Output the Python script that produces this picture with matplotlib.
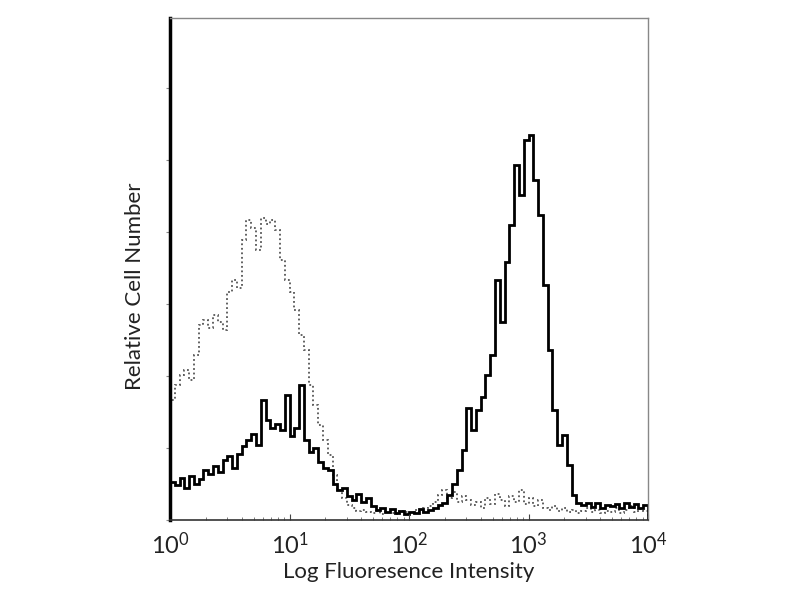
import numpy as np
import matplotlib.pyplot as plt

# ------------------------------------------------------------------
# Donnees lues sur l'histogramme (hauteurs relatives, 100 canaux log)
# ------------------------------------------------------------------
log_min, log_max, n_bins = 0.0, 4.0, 100

stained = [38, 35, 42, 32, 44, 36, 41, 50, 46, 54,
           48, 60, 64, 52, 66, 74, 80, 86, 75, 120,
           100, 92, 96, 90, 125, 84, 92, 135, 80, 68,
           72, 58, 52, 50, 36, 30, 32, 24, 20, 26,
           18, 22, 14, 10, 12, 8, 11, 7, 9, 6,
           8, 7, 11, 8, 10, 12, 15, 17, 25, 36,
           50, 70, 112, 90, 110, 123, 145, 165, 240, 198,
           258, 295, 355, 325, 380, 385, 340, 305, 235, 170,
           110, 75, 85, 55, 25, 17, 15, 17, 13, 17,
           12, 15, 14, 16, 12, 17, 13, 16, 12, 15]

isotype = [120, 135, 145, 150, 140, 165, 195, 200, 192, 205,
           198, 190, 228, 240, 232, 280, 300, 292, 270, 302,
           296, 300, 290, 260, 240, 228, 210, 185, 170, 135,
           115, 95, 80, 65, 45, 30, 22, 15, 12, 9,
           10, 8, 7, 9, 6, 8, 7, 6, 9, 8,
           7, 10, 8, 12, 14, 18, 25, 30, 22, 28,
           18, 24, 20, 15, 18, 12, 22, 16, 26, 20,
           14, 24, 18, 30, 16, 22, 14, 20, 12, 10,
           14, 9, 12, 8, 10, 7, 9, 12, 8, 10,
           7, 9, 8, 12, 7, 10, 14, 8, 11, 9]

x_ticks = [1, 10, 100, 1000, 10000]
x_labels = ["$10^0$", "$10^1$", "$10^2$", "$10^3$", "$10^4$"]

edges = 10 ** np.linspace(log_min, log_max, n_bins + 1)

plt.rcParams['font.family'] = ['Lato', 'DejaVu Sans']
plt.rcParams['mathtext.fontset'] = 'custom'
plt.rcParams['mathtext.rm'] = 'Lato'
plt.rcParams['mathtext.it'] = 'Lato'
plt.rcParams['text.color'] = '#222222'
plt.rcParams['axes.labelcolor'] = '#222222'
plt.rcParams['xtick.labelcolor'] = '#222222'

fig = plt.figure(figsize=(8, 6), dpi=100)
ax = fig.add_axes([0.2125, 0.1333, 0.5975, 0.8367])

ax.stairs(isotype, edges, color='#555555', linestyle=(0, (1, 1.5)), linewidth=1.3)
ax.stairs(stained, edges, color='black', linewidth=2.0)

ax.set_xscale('log')
ax.set_xlim(1, 10000)
ax.set_ylim(0, 502)

ax.set_xticks(x_ticks)
ax.set_xticklabels(x_labels, fontsize=17)
ax.tick_params(axis='x', which='major', direction='in', length=4, color='#444444', pad=8)
ax.tick_params(axis='x', which='minor', direction='in', length=2, color='#666666')

ax.set_yticks(np.arange(0, 502, 72))
ax.set_yticklabels([])
ax.tick_params(axis='y', direction='out', length=3, color='#888888')

ax.set_xlabel("Log Fluoresence Intensity", fontsize=16, labelpad=3)
ax.set_ylabel("Relative Cell Number", fontsize=16)
ax.yaxis.set_label_coords(-0.052, 0.465)

ax.spines['left'].set_linewidth(2.5)
ax.spines['left'].set_color('black')
ax.spines['bottom'].set_linewidth(1.2)
ax.spines['bottom'].set_color('#333333')
for s in ['top', 'right']:
    ax.spines[s].set_linewidth(1.0)
    ax.spines[s].set_color('#888888')

fig.savefig("out.png", dpi=100)
plt.close(fig)
